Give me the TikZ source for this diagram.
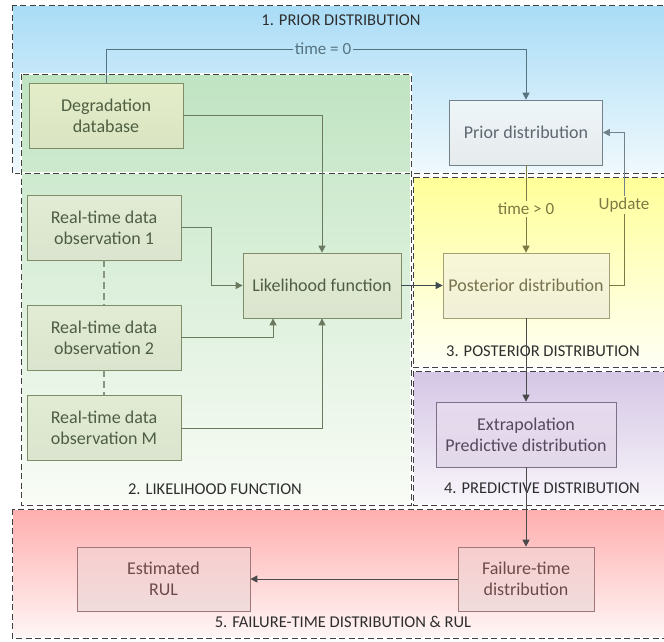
\documentclass[tikz,border=0pt]{standalone}
\usepackage{fontspec}
\setmainfont{Carlito}
\usetikzlibrary{arrows.meta}

% zone tints
\definecolor{lblue}{HTML}{A9DCF6}
\definecolor{lblueb}{HTML}{F0F9FD}
\definecolor{lgreen}{HTML}{C0E4C2}
\definecolor{lgreenb}{HTML}{F9FCF6}
\definecolor{lyellow}{HTML}{FFFF99}
\definecolor{lyellowb}{HTML}{FFFFF6}
\definecolor{lpurple}{HTML}{D4C6E5}
\definecolor{lpurpleb}{HTML}{F9F6FB}
\definecolor{lred}{HTML}{FFAEAE}
\definecolor{lredb}{HTML}{FFF6F6}
% block colours
\definecolor{gfillt}{HTML}{E3EDC8}
\definecolor{gfillb}{HTML}{DAE4C2}
\definecolor{ofillt}{HTML}{E2ECD4}
\definecolor{ofillb}{HTML}{DAE4CE}
\definecolor{gdraw}{HTML}{7E8C68}
\definecolor{gtext}{HTML}{4E5E42}
\definecolor{pfillt}{HTML}{EEF5F8}
\definecolor{pfillb}{HTML}{E6EBED}
\definecolor{pdraw}{HTML}{72828A}
\definecolor{ptext}{HTML}{5E6870}
\definecolor{yfillt}{HTML}{F8F7D6}
\definecolor{yfillb}{HTML}{F1F0D8}
\definecolor{ydraw}{HTML}{A29F74}
\definecolor{ytext}{HTML}{76734C}
\definecolor{vfillt}{HTML}{E6DAEE}
\definecolor{vfillb}{HTML}{E2D9EA}
\definecolor{vdraw}{HTML}{7C6F87}
\definecolor{vtext}{HTML}{544A5E}
\definecolor{rfillt}{HTML}{F8CDCD}
\definecolor{rfillb}{HTML}{F0DCDC}
\definecolor{rdraw}{HTML}{A07676}
\definecolor{rtext}{HTML}{6E4A4A}
% connector colours
\definecolor{cblue}{HTML}{567480}
\definecolor{cgreen}{HTML}{6B7A5E}
\definecolor{colive}{HTML}{7C7944}
\definecolor{cdark}{HTML}{3E4A50}
\definecolor{cgray}{HTML}{4A4A4A}

\tikzset{
  zoneborder/.style={draw=black!75, line width=0.8pt, dash pattern=on 6pt off 3.5pt},
  zonehalo/.style={draw=white, line width=1.6pt},
  zonelabel/.style={font=\fontsize{16.5}{19}\selectfont, text=black!82},
  box/.style={draw, line width=0.7pt, align=center, inner sep=2pt,
    font=\fontsize{18}{21}\selectfont},
  gbox/.style={box, draw=gdraw, top color=gfillt, bottom color=gfillb, text=gtext,
    minimum width=154pt, minimum height=65pt},
  obox/.style={gbox, top color=ofillt, bottom color=ofillb},
  pribox/.style={box, draw=pdraw, top color=pfillt, bottom color=pfillb, text=ptext},
  postbox/.style={box, draw=ydraw, top color=yfillt, bottom color=yfillb, text=ytext},
  purbox/.style={box, draw=vdraw, top color=vfillt, bottom color=vfillb, text=vtext},
  redbox/.style={box, draw=rdraw, top color=rfillt, bottom color=rfillb, text=rtext},
  arr/.style={-{Triangle[length=7pt,width=7pt]}, line width=0.8pt},
  conn/.style={line width=0.8pt},
  lab/.style={inner sep=1.5pt, font=\fontsize{17}{20}\selectfont},
}

\begin{document}
\begin{tikzpicture}[x=1pt,y=-1pt]
\clip (0,0) rectangle (664,641);
\fill[white] (0,0) rectangle (664,641);

% coloured zones
\shade[top color=lblue, bottom color=lblueb] (12,5) rectangle (668,173);
\shade[top color=lgreen, bottom color=lgreenb] (21,74) rectangle (411,505);
\shade[top color=lyellow, bottom color=lyellowb] (413,177) rectangle (668,367);
\shade[top color=lpurple, bottom color=lpurpleb] (413,371) rectangle (668,505);
\shade[top color=lred, bottom color=lredb] (12,509) rectangle (668,638);

% zone outlines
\foreach \ax/\ay/\bx/\by in {12/5/668/173, 21/74/411/505, 413/177/668/367,
                              413/371/668/505, 12/509/668/638}{
  \draw[zonehalo] (\ax,\ay) rectangle (\bx,\by);
  \draw[zoneborder] (\ax,\ay) rectangle (\bx,\by);
}

% zone titles
\node[zonelabel] (z1) at (341,20) {1. PRIOR DISTRIBUTION};
\node[zonelabel] (z2) at (215,489) {2. LIKELIHOOD FUNCTION};
\node[zonelabel] (z3) at (543,351) {3. POSTERIOR DISTRIBUTION};
\node[zonelabel] (z4) at (542,488) {4. PREDICTIVE DISTRIBUTION};
\node[zonelabel] (z5) at (343,622) {5. FAILURE-TIME DISTRIBUTION \& RUL};

% blocks
\node[gbox] (db) at (106,115.5) {Degradation\\database};
\node[obox] (obs1) at (104,227.5) {Real-time data\\observation 1};
\node[obox] (obs2) at (104,337.5) {Real-time data\\observation 2};
\node[obox] (obsM) at (104,428) {Real-time data\\observation M};
\node[obox, minimum width=158pt] (lik) at (322,285.5) {Likelihood function};
\node[pribox, minimum width=153pt, minimum height=65pt] (prior) at (526,132.5) {Prior distribution};
\node[postbox, minimum width=166pt, minimum height=65pt] (post) at (526,285.5) {Posterior distribution};
\node[purbox, minimum width=180pt, minimum height=65pt] (extra) at (526,434.5) {Extrapolation\\Predictive distribution};
\node[redbox, minimum width=136pt, minimum height=64pt] (fail) at (526,579) {Failure-time\\distribution};
\node[redbox, minimum width=173pt, minimum height=64pt] (rul) at (163.5,579) {Estimated\\RUL};

% inline labels on connectors
\node[lab, text=cblue] (t0) at (323,49) {time = 0};
\node[lab, text=colive] (tg) at (526,209) {time > 0};
\node[lab, text=colive] (upd) at (624,205) {Update};

% connectors
\draw[conn, draw=cblue] (db.north) |- (t0.west);
\draw[arr, draw=cblue] (t0.east) -| (prior.north);
\draw[arr, draw=cgreen] (db.east) -| (lik.north);
\draw[arr, draw=cgreen] (obs1.east) -- ++(30,0) |- (lik.west);
\draw[arr, draw=cgreen] (obs2.east) -| ([xshift=-49pt]lik.south);
\draw[arr, draw=cgreen] (obsM.east) -| (lik.south);
\draw[draw=cgreen!80, dash pattern=on 7pt off 4pt, line width=1.3pt] (obs1.south) -- (obs2.north);
\draw[draw=cgreen!80, dash pattern=on 7pt off 4pt, line width=1.3pt] (obs2.south) -- (obsM.north);
\draw[arr, draw=cdark] (lik.east) -- (post.west);
\draw[conn, draw=colive] (prior.south) -- (tg.north);
\draw[arr, draw=colive] (tg.south) -- (post.north);
\draw[conn, draw=colive] (post.east) -| (upd.south);
\draw[arr, draw=pdraw] (upd.north) |- (prior.east);
\draw[arr, draw=cgray] (post.south) -- (extra.north);
\draw[arr, draw=cgray] (extra.south) -- (fail.north);
\draw[arr, draw=cgray] (fail.west) -- (rul.east);
\end{tikzpicture}
\end{document}
